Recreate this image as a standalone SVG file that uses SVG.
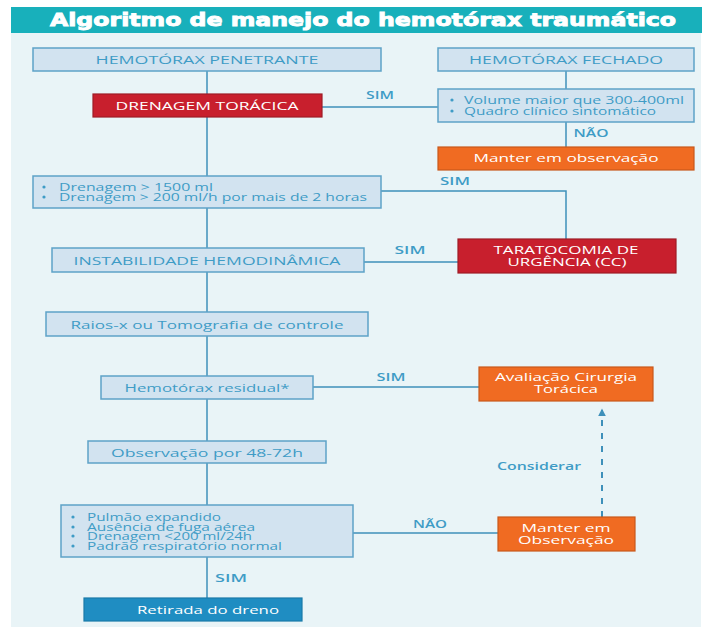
<svg xmlns="http://www.w3.org/2000/svg" width="702" height="631" viewBox="0 0 702 631">
  <style>
    .box { fill: #d2e3f0; stroke: #5ea2c8; stroke-width: 1.5; }
    .red { fill: #c81f2d; stroke: #9e1b25; stroke-width: 1.2; }
    .orange { fill: #f06b22; stroke: #c8581c; stroke-width: 1.2; }
    .blue { fill: #1f8dc2; stroke: #1a7aa8; stroke-width: 1.2; }
    .t { font-family: "Open Sans", "Liberation Sans", sans-serif; font-size: 11.5px; font-weight: 500; fill: #3f9cc6; }
    .s { font-size: 11px; }
    .tc { text-anchor: middle; }
    .w { fill: #ffffff; }
    .lbl { font-family: "Open Sans", "Liberation Sans", sans-serif; font-size: 11.5px; fill: #3f9cc6; text-anchor: middle; font-weight: 600; }
    .link { fill: none; stroke: #3e90ba; stroke-width: 1.5; }
    .dash { fill: none; stroke: #3e90ba; stroke-width: 2; stroke-dasharray: 6 7; }
    .dot { fill: #3f9cc6; }
  </style>
  <defs>
    <marker id="arrow" viewBox="0 0 10 10" refX="8" refY="5" markerWidth="4" markerHeight="4" orient="auto">
      <path d="M0,0 L10,5 L0,10 z" fill="#3e90ba"/>
    </marker>
  </defs>

  <!-- page and panel -->
  <rect x="0" y="0" width="702" height="631" fill="#ffffff"/>
  <rect x="11" y="33" width="690" height="594" fill="#e9f4f7"/>

  <!-- title bar -->
  <g id="title">
    <rect x="11" y="7" width="691" height="26" fill="#18b0bb"/>
    <text x="363" y="26" text-anchor="middle" font-family="'DejaVu Sans', 'Liberation Sans', sans-serif" font-size="18" font-weight="bold" fill="#ffffff" stroke="#ffffff" stroke-width="0.9" textLength="626" lengthAdjust="spacingAndGlyphs">Algoritmo de manejo do hemotórax traumático</text>
  </g>

  <!-- connectors -->
  <g id="connectors">
    <path class="link" d="M207,71 V94"/>
    <path class="link" d="M207,117 V176"/>
    <path class="link" d="M207,208 V248"/>
    <path class="link" d="M207,272 V312"/>
    <path class="link" d="M207,336 V376"/>
    <path class="link" d="M207,399 V441"/>
    <path class="link" d="M207,463 V505"/>
    <path class="link" d="M207,557 V598"/>
    <path class="link" d="M322,107 H438"/>
    <path class="link" d="M566,71 V89"/>
    <path class="link" d="M566,122 V147"/>
    <path class="link" d="M381,191 H566 V239"/>
    <path class="link" d="M364,262 H458"/>
    <path class="link" d="M313,387 H479"/>
    <path class="link" d="M353,533 H498"/>
    <path class="dash" d="M602,517 V410" marker-end="url(#arrow)"/>
    <text class="lbl" x="380" y="99" textLength="28" lengthAdjust="spacingAndGlyphs">SIM</text>
    <text class="lbl" x="591" y="137" textLength="35" lengthAdjust="spacingAndGlyphs">NÃO</text>
    <text class="lbl" x="455" y="185" textLength="30" lengthAdjust="spacingAndGlyphs">SIM</text>
    <text class="lbl" x="410" y="254" textLength="31" lengthAdjust="spacingAndGlyphs">SIM</text>
    <text class="lbl" x="391" y="381" textLength="29" lengthAdjust="spacingAndGlyphs">SIM</text>
    <text class="lbl" x="539" y="470" textLength="84" lengthAdjust="spacingAndGlyphs">Considerar</text>
    <text class="lbl" x="430" y="528" textLength="34" lengthAdjust="spacingAndGlyphs">NÃO</text>
    <text class="lbl" x="231" y="582" textLength="32" lengthAdjust="spacingAndGlyphs">SIM</text>
  </g>

  <g id="hemotorax-penetrante">
    <rect class="box" x="33" y="48" width="348" height="23"/>
    <text class="t tc" x="207" y="64" textLength="223" lengthAdjust="spacingAndGlyphs">HEMOTÓRAX PENETRANTE</text>
  </g>

  <g id="hemotorax-fechado">
    <rect class="box" x="438" y="48" width="256" height="23"/>
    <text class="t tc" x="566" y="64" textLength="194" lengthAdjust="spacingAndGlyphs">HEMOTÓRAX FECHADO</text>
  </g>

  <g id="drenagem-toracica">
    <rect class="red" x="93" y="94" width="229" height="23"/>
    <text class="t tc w" x="207" y="110" textLength="183" lengthAdjust="spacingAndGlyphs">DRENAGEM TORÁCICA</text>
  </g>

  <g id="criterios-fechado">
    <rect class="box" x="438" y="89" width="256" height="33"/>
    <circle class="dot" cx="452" cy="100" r="1.6"/>
    <circle class="dot" cx="452" cy="111" r="1.6"/>
    <text class="t s" x="464" y="104" textLength="220" lengthAdjust="spacingAndGlyphs">Volume maior que 300-400ml</text>
    <text class="t s" x="464" y="115" textLength="192" lengthAdjust="spacingAndGlyphs">Quadro clínico sintomático</text>
  </g>

  <g id="manter-observacao-fechado">
    <rect class="orange" x="438" y="147" width="256" height="23"/>
    <text class="t tc w" x="566" y="162" textLength="185" lengthAdjust="spacingAndGlyphs">Manter em observação</text>
  </g>

  <g id="criterios-drenagem">
    <rect class="box" x="33" y="176" width="348" height="32"/>
    <circle class="dot" cx="44" cy="187" r="1.6"/>
    <circle class="dot" cx="44" cy="197" r="1.6"/>
    <text class="t s" x="59" y="191" textLength="154" lengthAdjust="spacingAndGlyphs">Drenagem &gt; 1500 ml</text>
    <text class="t s" x="59" y="201" textLength="308" lengthAdjust="spacingAndGlyphs">Drenagem &gt; 200 ml/h por mais de 2 horas</text>
  </g>

  <g id="instabilidade">
    <rect class="box" x="52" y="248" width="312" height="24"/>
    <text class="t tc" x="207" y="264.5" textLength="267" lengthAdjust="spacingAndGlyphs">INSTABILIDADE HEMODINÂMICA</text>
  </g>

  <g id="toracotomia">
    <rect class="red" x="458" y="239" width="218" height="34"/>
    <text class="t tc w" x="566" y="254" textLength="145" lengthAdjust="spacingAndGlyphs">TARATOCOMIA DE</text>
    <text class="t tc w" x="567" y="266" textLength="119" lengthAdjust="spacingAndGlyphs">URGÊNCIA (CC)</text>
  </g>

  <g id="raios-x">
    <rect class="box" x="46" y="312" width="322" height="24"/>
    <text class="t tc" x="207" y="328.5" textLength="273" lengthAdjust="spacingAndGlyphs">Raios-x ou Tomografia de controle</text>
  </g>

  <g id="hemotorax-residual">
    <rect class="box" x="101" y="376" width="212" height="23"/>
    <text class="t tc" x="207" y="392" textLength="165" lengthAdjust="spacingAndGlyphs">Hemotórax residual*</text>
  </g>

  <g id="avaliacao-cirurgia">
    <rect class="orange" x="479" y="367" width="174" height="34"/>
    <text class="t tc w" x="566" y="381" textLength="142" lengthAdjust="spacingAndGlyphs">Avaliação Cirurgia</text>
    <text class="t tc w" x="566" y="393" textLength="64" lengthAdjust="spacingAndGlyphs">Torácica</text>
  </g>

  <g id="observacao-48-72h">
    <rect class="box" x="88" y="441" width="238" height="22"/>
    <text class="t tc" x="207" y="456.5" textLength="192" lengthAdjust="spacingAndGlyphs">Observação por 48-72h</text>
  </g>

  <g id="criterios-retirada">
    <rect class="box" x="61" y="505" width="292" height="52"/>
    <circle class="dot" cx="73" cy="517" r="1.6"/>
    <circle class="dot" cx="73" cy="527" r="1.6"/>
    <circle class="dot" cx="73" cy="536" r="1.6"/>
    <circle class="dot" cx="73" cy="546" r="1.6"/>
    <text class="t s" x="87" y="521" textLength="134" lengthAdjust="spacingAndGlyphs">Pulmão expandido</text>
    <text class="t s" x="87" y="530.5" textLength="168" lengthAdjust="spacingAndGlyphs">Ausência de fuga aérea</text>
    <text class="t s" x="87" y="540" textLength="165" lengthAdjust="spacingAndGlyphs">Drenagem &lt;200 ml/24h</text>
    <text class="t s" x="87" y="549.5" textLength="195" lengthAdjust="spacingAndGlyphs">Padrão respiratório normal</text>
  </g>

  <g id="manter-observacao">
    <rect class="orange" x="498" y="517" width="137" height="34"/>
    <text class="t tc w" x="566" y="532" textLength="89" lengthAdjust="spacingAndGlyphs">Manter em</text>
    <text class="t tc w" x="566" y="544" textLength="96" lengthAdjust="spacingAndGlyphs">Observação</text>
  </g>

  <g id="retirada-dreno">
    <rect class="blue" x="84" y="598" width="218" height="23"/>
    <text class="t tc w" x="208" y="614" textLength="142" lengthAdjust="spacingAndGlyphs">Retirada do dreno</text>
  </g>
</svg>
